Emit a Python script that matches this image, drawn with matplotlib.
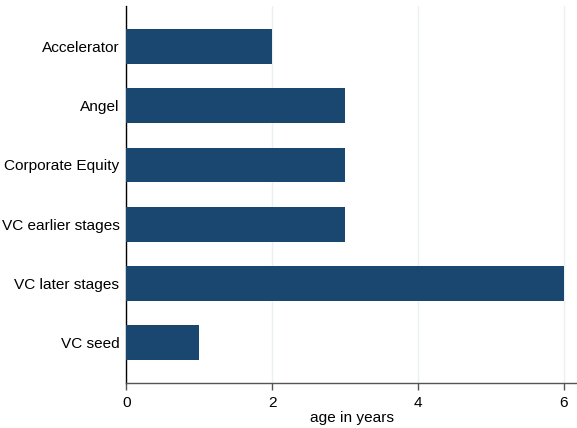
import matplotlib
matplotlib.use('Agg')
import matplotlib.pyplot as plt

plt.rcParams['font.family'] = ['Liberation Sans', 'DejaVu Sans']

categories = ['Accelerator', 'Angel', 'Corporate Equity', 'VC earlier stages',
              'VC later stages', 'VC seed']
age = [2, 3, 3, 3, 6, 1]
xticks = [0, 2, 4, 6]

bar_color = '#1a476f'
fs = 11.1

fig = plt.figure(figsize=(5.77, 4.28), dpi=100)
ax = fig.add_axes([0.219, 0.105, 0.781, 0.881])

ypos = list(range(len(categories)))
ax.barh(ypos, age, height=0.59, color=bar_color, zorder=3)

ax.set_yticks(ypos)
ax.set_yticklabels(categories, fontsize=fs)
ax.set_ylim(len(categories) - 1 + 0.69, -0.69)
ax.tick_params(axis='y', length=0, pad=5)

ax.set_xlim(0, 6.18)
ax.set_xticks(xticks)
ax.set_xticklabels([str(t) for t in xticks], fontsize=fs)
ax.tick_params(axis='x', length=5, width=1, color='#555555', pad=4.5)
ax.set_xlabel('age in years', fontsize=fs, labelpad=0.5)

ax.grid(axis='x', color='#eaf0f3', linewidth=1, zorder=0)
ax.set_axisbelow(True)

for s in ['top', 'right']:
    ax.spines[s].set_visible(False)
ax.spines['left'].set_color('#000000')
ax.spines['left'].set_linewidth(1)
ax.spines['bottom'].set_color('#555555')
ax.spines['bottom'].set_linewidth(1)

fig.savefig('out.png', dpi=100)
